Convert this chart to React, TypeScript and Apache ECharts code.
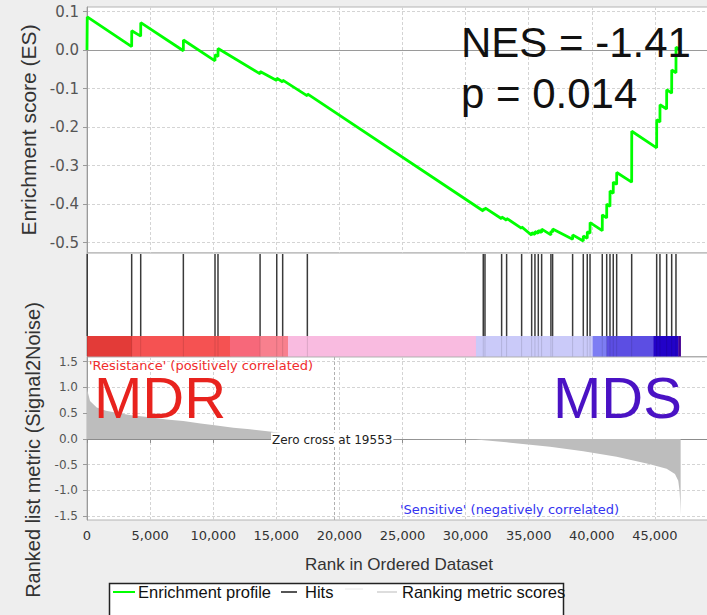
import React, { useEffect, useRef } from "react";
import * as echarts from "echarts";

// ---------------- data ----------------
const xTicks = [0, 5000, 10000, 15000, 20000, 25000, 30000, 35000, 40000, 45000];
const esTicks = [0.1, 0.0, -0.1, -0.2, -0.3, -0.4, -0.5];
const metricTicks = [1.5, 1.0, 0.5, 0.0, -0.5, -1.0, -1.5];

// running enrichment score [rank, ES]
const esProfile: [number, number][] = [
  [0, 0], [20, 0.086],
  [3540, 0.009], [3544, 0.05],
  [4255, 0.036], [4259, 0.071],
  [7635, -0.002], [7639, 0.026],
  [10143, -0.028], [10147, -0.012], [10380, -0.017], [10384, 0.004],
  [13715, -0.062], [13719, -0.056],
  [15035, -0.079], [15039, -0.073],
  [15505, -0.083], [15509, -0.078],
  [17460, -0.119], [17464, -0.114],
  [31400, -0.418], [31404, -0.412], [31535, -0.415], [31539, -0.41],
  [32855, -0.438], [32859, -0.433], [33250, -0.442], [33254, -0.437],
  [34440, -0.463], [34444, -0.459],
  [35235, -0.481], [35239, -0.474], [35495, -0.479], [35499, -0.471], [35760, -0.476], [35764, -0.468], [36025, -0.474], [36029, -0.465],
  [36760, -0.48], [36764, -0.47], [36895, -0.473], [36899, -0.465],
  [38480, -0.491], [38484, -0.48],
  [39325, -0.496], [39329, -0.483], [39640, -0.489], [39644, -0.472], [39860, -0.476], [39864, -0.448],
  [40830, -0.469], [40834, -0.428], [41180, -0.436], [41184, -0.4], [41440, -0.406], [41444, -0.366],
  [41700, -0.372], [41704, -0.343], [41970, -0.349], [41974, -0.318],
  [43160, -0.343], [43163, -0.278], [43166, -0.211],
  [45140, -0.254], [45144, -0.181], [45400, -0.187], [45404, -0.142], [45930, -0.153], [45934, -0.103],
  [46330, -0.112], [46334, -0.052], [46670, -0.059], [46674, 0.007], [47040, 0.0],
];

// gene-set members (ranks)
const hitRanks: number[] = [
  20, 3540, 4255, 7635, 10143, 10380, 13715, 15035, 15505, 17460,
  31400, 31535, 32855, 33250, 34440, 35235, 35495, 35760, 36025, 36760, 36895,
  38480, 39325, 39640, 39860, 40830, 41180, 41440, 41700, 41970, 43160,
  45140, 45400, 45930, 46330, 46670,
];

// ranked list metric (Signal2Noise) [rank, value]
const metricScores: [number, number][] = [
  [0, 0.97], [240, 0.74], [770, 0.61], [1500, 0.55], [2350, 0.51], [3500, 0.46],
  [4990, 0.42], [6300, 0.38], [7630, 0.35], [9000, 0.3], [10270, 0.26], [11600, 0.22],
  [12910, 0.19], [14630, 0.14], [16500, 0.08], [18200, 0.03], [19553, 0],
  [24000, -0.002], [30800, -0.008], [30820, -0.02], [33250, -0.065], [36690, -0.15],
  [39330, -0.24], [41970, -0.345], [44610, -0.49], [45930, -0.58], [46590, -0.68],
  [46850, -0.81], [46950, -1.0], [47000, -1.2], [47040, -1.47],
];

// heat-map bar of the ranked list [fromRank, toRank, colour]
const colorBands: [number, number, string][] = [
  [0, 3540, "#e33b38"], [3540, 11330, "#f55252"], [11330, 13710, "#f7687a"],
  [13710, 15930, "#f8808e"], [15930, 30820, "#f9bbe0"], [30820, 40070, "#cacaf9"],
  [40070, 41180, "#7d7df3"], [41180, 44870, "#5c4ee3"], [44870, 46850, "#2202c8"],
  [46850, 47040, "#460094"],
];

const zeroCross = 19553;
const xMax = 50000;
const nesText = "NES = -1.41";
const pText = "p = 0.014";

// ---------------- chart ----------------
const SANS = "'Liberation Sans', Arial, sans-serif";
const DEJA = "'DejaVu Sans', sans-serif";
const fmtThousands = (v: number) => String(Math.round(v)).replace(/\B(?=(\d{3})+(?!\d))/g, ",");

export default function App() {
  const ref = useRef<HTMLDivElement>(null);
  useEffect(() => {
    if (!ref.current) return;
    const chart = echarts.init(ref.current, undefined, { renderer: "svg" });
    const dashed = { show: true, lineStyle: { color: "#d4d4d4", type: [3, 2], width: 1 } };
    const gridW = 631;
    const option: any = {
      animation: false,
      backgroundColor: "#eeeeee",
      grid: [
        { left: 87, top: 7, width: gridW, height: 246, show: true, backgroundColor: "#fff", borderColor: "#b4b4b4", borderWidth: 1 },
        { left: 87, top: 253, width: gridW, height: 103.5, show: true, backgroundColor: "#fff", borderColor: "#a8a8a8", borderWidth: 1 },
        { left: 87, top: 357, width: gridW, height: 163, show: true, backgroundColor: "#fff", borderColor: "#b4b4b4", borderWidth: 1 },
      ],
      xAxis: [
        {
          gridIndex: 0, type: "value", min: 0, max: xMax,
          axisLine: { show: false }, axisTick: { show: false, customValues: xTicks },
          axisLabel: { show: false, customValues: xTicks }, splitLine: dashed,
        },
        {
          gridIndex: 1, type: "value", min: 0, max: xMax, show: false, splitLine: { show: false },
        },
        {
          gridIndex: 2, type: "value", min: 0, max: xMax,
          axisLine: { show: true, lineStyle: { color: "#8c8c8c" } },
          axisTick: { show: true, length: 4, customValues: xTicks, lineStyle: { color: "#8c8c8c" } },
          axisLabel: {
            customValues: xTicks, formatter: (v: number) => fmtThousands(v),
            fontFamily: DEJA, fontSize: 13, color: "#333", margin: 9,
          },
          splitLine: dashed,
        },
      ],
      yAxis: [
        {
          gridIndex: 0, type: "value", min: -0.527, max: 0.1117,
          axisLine: { show: true, lineStyle: { color: "#9a9a9a" } },
          axisTick: { show: true, length: 4, customValues: esTicks, lineStyle: { color: "#9a9a9a" } },
          axisLabel: {
            customValues: esTicks, formatter: (v: number) => v.toFixed(1),
            fontFamily: DEJA, fontSize: 15, color: "#555", margin: 8,
          },
          splitLine: dashed,
        },
        { gridIndex: 1, type: "value", min: 0, max: 1, show: false, splitLine: { show: false } },
        {
          gridIndex: 2, type: "value", min: -1.573, max: 1.592,
          axisLine: { show: true, lineStyle: { color: "#9a9a9a" } },
          axisTick: { show: true, length: 4, customValues: metricTicks, lineStyle: { color: "#9a9a9a" } },
          axisLabel: {
            customValues: metricTicks, formatter: (v: number) => v.toFixed(1),
            fontFamily: DEJA, fontSize: 12, color: "#555", margin: 9,
          },
          splitLine: dashed,
        },
      ],
      series: [
        {
          name: "Enrichment profile", type: "line", xAxisIndex: 0, yAxisIndex: 0,
          data: esProfile, showSymbol: false, symbol: "none",
          lineStyle: { color: "#00ff00", width: 2.8 }, z: 5,
          markLine: {
            silent: true, symbol: "none", label: { show: false },
            lineStyle: { color: "#9a9a9a", type: "solid", width: 1 },
            data: [{ yAxis: 0 }],
          },
        },
        {
          name: "colorbar", type: "custom", xAxisIndex: 1, yAxisIndex: 1,
          data: colorBands.map((b) => [b[0], b[1]]),
          encode: { x: [0, 1] },
          renderItem: (params: any, api: any) => {
            const p0 = api.coord([api.value(0), 0]);
            const p1 = api.coord([api.value(1), 0.198]);
            return {
              type: "rect",
              shape: { x: p0[0], y: p1[1], width: p1[0] - p0[0] + 0.3, height: p0[1] - p1[1] },
              style: { fill: colorBands[params.dataIndex][2] },
            };
          },
          z: 2,
        },
        {
          name: "Hits", type: "custom", xAxisIndex: 1, yAxisIndex: 1,
          data: hitRanks.map((r) => [r]),
          encode: { x: 0 },
          renderItem: (params: any, api: any) => {
            const r = api.value(0);
            const top = api.coord([r, 1]);
            const mid = api.coord([r, 0.198]);
            const bot = api.coord([r, 0]);
            return {
              type: "group",
              children: [
                { type: "line", shape: { x1: top[0], y1: top[1] + 1, x2: mid[0], y2: mid[1] }, style: { stroke: "#3a3a3a", lineWidth: 1.5 } },
                { type: "line", shape: { x1: mid[0], y1: mid[1], x2: bot[0], y2: bot[1] }, style: { stroke: "rgba(0,0,0,0.12)", lineWidth: 1 } },
              ],
            };
          },
          z: 3,
        },
        {
          name: "Ranking metric scores", type: "line", xAxisIndex: 2, yAxisIndex: 2,
          data: metricScores, showSymbol: false, symbol: "none",
          lineStyle: { width: 0 }, areaStyle: { color: "#bdbdbd", opacity: 1 },
          markLine: {
            silent: true, symbol: "none", label: { show: false },
            lineStyle: { color: "#b0b0b0", type: [3, 2], width: 1 },
            data: [{ xAxis: zeroCross }],
          },
        },
      ],
      graphic: [
        // big annotations
        { type: "text", x: 461, y: 42, z: 10, style: { text: nesText, font: `42px ${SANS}`, fill: "#111", align: "left", verticalAlign: "middle" } },
        { type: "text", x: 461, y: 93, z: 10, style: { text: pText, font: `42px ${SANS}`, fill: "#111", align: "left", verticalAlign: "middle" } },
        { type: "text", x: 94, y: 397, z: 10, style: { text: "MDR", font: `58px ${SANS}`, lineHeight: 44, fill: "#e8231e", align: "left", verticalAlign: "middle" } },
        { type: "text", x: 553, y: 397, z: 10, style: { text: "MDS", font: `58px ${SANS}`, lineHeight: 44, fill: "#4a12c4", align: "left", verticalAlign: "middle" } },
        { type: "text", x: 89, y: 365, z: 10, style: { text: "'Resistance' (positively correlated)", font: `13px ${DEJA}`, lineHeight: 11, fill: "#f02c2c", align: "left", verticalAlign: "middle" } },
        { type: "text", x: 400, y: 509, z: 10, style: { text: "'Sensitive' (negatively correlated)", font: `13px ${DEJA}`, fill: "#3434f0", align: "left", verticalAlign: "middle" } },
        { type: "text", x: 271, y: 439.5, z: 10, style: { text: "Zero cross at " + zeroCross, font: `12px ${DEJA}`, fill: "#222", align: "left", verticalAlign: "middle", backgroundColor: "#fff", padding: [1, 1, 1, 1] } },
        // axis titles
        { type: "text", x: 28, y: 130, rotation: Math.PI / 2, z: 10, style: { text: "Enrichment score (ES)", font: `21px ${SANS}`, fill: "#333", align: "center", verticalAlign: "middle" } },
        { type: "text", x: 33, y: 450, rotation: Math.PI / 2, z: 10, style: { text: "Ranked list metric (Signal2Noise)", font: `20px ${SANS}`, fill: "#333", align: "center", verticalAlign: "middle" } },
        { type: "text", x: 399, y: 564, z: 10, style: { text: "Rank in Ordered Dataset", font: `17px ${SANS}`, fill: "#333", align: "center", verticalAlign: "middle" } },
        // legend
        { type: "rect", z: 10, shape: { x: 109.5, y: 583.5, width: 454, height: 50 }, style: { fill: "#fff", stroke: "#222", lineWidth: 1.5 } },
        { type: "line", z: 11, shape: { x1: 113, y1: 592, x2: 135, y2: 592 }, style: { stroke: "#00ff00", lineWidth: 2 } },
        { type: "text", x: 138, y: 592, z: 11, style: { text: "Enrichment profile", font: `16.5px ${SANS}`, fill: "#111", align: "left", verticalAlign: "middle" } },
        { type: "line", z: 11, shape: { x1: 281, y1: 592, x2: 297, y2: 592 }, style: { stroke: "#555", lineWidth: 2 } },
        { type: "text", x: 305, y: 592, z: 11, style: { text: "Hits", font: `16.5px ${SANS}`, fill: "#111", align: "left", verticalAlign: "middle" } },
        { type: "line", z: 11, shape: { x1: 345, y1: 589, x2: 363, y2: 589 }, style: { stroke: "#f0f0f0", lineWidth: 1.5 } },
        { type: "line", z: 11, shape: { x1: 377, y1: 592, x2: 397, y2: 592 }, style: { stroke: "#dddddd", lineWidth: 2 } },
        { type: "text", x: 402, y: 592, z: 11, style: { text: "Ranking metric scores", font: `16.5px ${SANS}`, fill: "#111", align: "left", verticalAlign: "middle" } },
      ],
    };
    chart.setOption(option);
    return () => chart.dispose();
  }, []);
  return (
    <div style={{ position: "absolute", left: 0, top: 0, width: 707, height: 615, overflow: "hidden", background: "#eeeeee" }}>
      <div ref={ref} style={{ position: "absolute", left: 0, top: 0, width: 740, height: 615 }} />
    </div>
  );
}
